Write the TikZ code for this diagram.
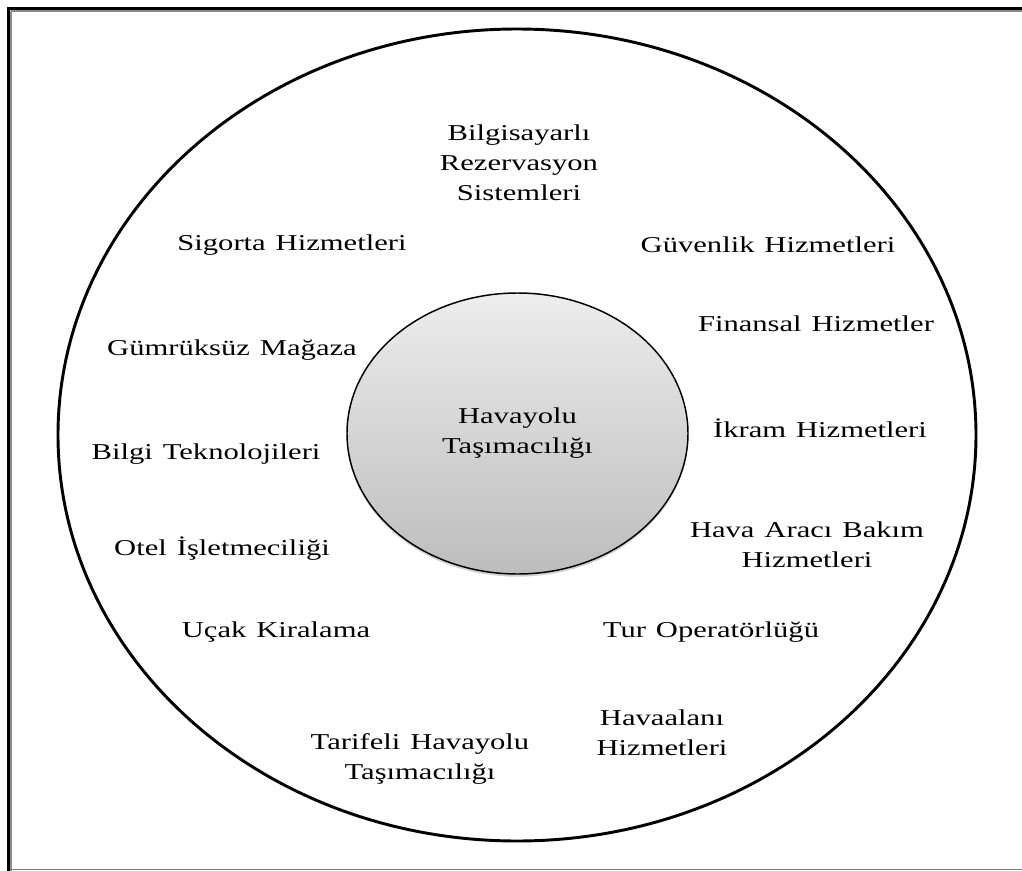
\documentclass[tikz,border=0pt]{standalone}
\usepackage{fontspec}
\setmainfont[FakeStretch=1.35,WordSpace=1.3]{Liberation Serif}
\usetikzlibrary{shapes.geometric,shadows}
\begin{document}
\begin{tikzpicture}[x=0.75pt,y=-0.75pt,
  lbl/.style={font=\fontsize{17}{22.5}\selectfont, align=center, inner sep=0pt},
  ringline/.style={draw=black, line width=2.2pt},
  core/.style={ellipse, draw=black, line width=1.1pt,
    top color=black!7, bottom color=black!26,
    drop shadow={opacity=0.35, shadow xshift=0pt, shadow yshift=-2pt},
    minimum width=255.75pt, minimum height=210.75pt, inner sep=0pt}]
\useasboundingbox (0,0) rectangle (1022,871);
\fill[white] (0,0) rectangle (1022,871);
% page frame
\draw[black!45, line width=0.8pt] (11,11) -- (1022,11);
\draw[black!45, line width=0.8pt] (11,11) -- (11,871);
\draw[black!50, line width=1pt] (11,869.5) -- (1022,869.5);
\draw[line width=2.6pt] (8.5,871) -- (8.5,8.5) -- (1022,8.5);
% outer ring
\node (ring) [ellipse, ringline, minimum width=688.5pt, minimum height=609pt, inner sep=0pt] at (517,435) {};
% core
\node (core) [core, lbl] at (517.5,433.5) {Havayolu\\Taşımacılığı};
% surrounding services
\node (crs)  [lbl] at (519,163) {Bilgisayarlı\\Rezervasyon\\Sistemleri};
\node (sig)  [lbl] at (292,245) {Sigorta Hizmetleri};
\node (guv)  [lbl] at (768,245) {Güvenlik Hizmetleri};
\node (fin)  [lbl] at (816,324) {Finansal Hizmetler};
\node (gum)  [lbl] at (232,350) {Gümrüksüz Mağaza};
\node (ikr)  [lbl] at (820,428) {İkram Hizmetleri};
\node (bil)  [lbl] at (206,454) {Bilgi Teknolojileri};
\node (bak)  [lbl] at (807,545) {Hava Aracı Bakım\\Hizmetleri};
\node (otel) [lbl] at (222,549) {Otel İşletmeciliği};
\node (ucak) [lbl] at (276,632) {Uçak Kiralama};
\node (tur)  [lbl] at (711,632) {Tur Operatörlüğü};
\node (hava) [lbl] at (662,733) {Havaalanı\\Hizmetleri};
\node (tar)  [lbl] at (420,759) {Tarifeli Havayolu\\Taşımacılığı};
\end{tikzpicture}
\end{document}
